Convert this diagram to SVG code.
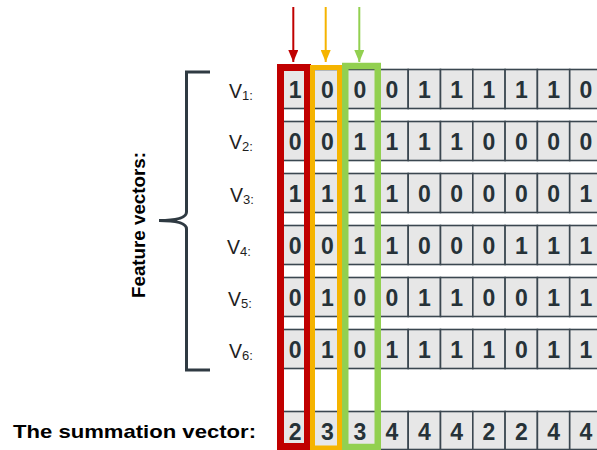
<svg xmlns="http://www.w3.org/2000/svg" width="597" height="450" viewBox="0 0 597 450">
<style>
.c{fill:#e7e7e7;stroke:#3b4750;stroke-width:1.6}
.d{font-family:"Liberation Sans",Arial,sans-serif;font-weight:bold;font-size:23px;fill:#263238;text-anchor:middle}
.v{font-family:"Liberation Sans",Arial,sans-serif;font-size:19.5px;fill:#1e1e1e}
.s{font-size:13px}
.t{font-family:"Liberation Sans",Arial,sans-serif;font-weight:bold;font-size:19px;fill:#000}
.fr{fill:none}
</style>
<defs>
<marker id="mr" viewBox="0 0 12 10" refX="12" refY="5" markerWidth="12" markerHeight="10" markerUnits="userSpaceOnUse" orient="auto"><path d="M0,0 L12,5 L0,10 z" fill="#c00000"/></marker>
<marker id="mo" viewBox="0 0 12 10" refX="12" refY="5" markerWidth="12" markerHeight="10" markerUnits="userSpaceOnUse" orient="auto"><path d="M0,0 L12,5 L0,10 z" fill="#f5b400"/></marker>
<marker id="mg" viewBox="0 0 12 10" refX="12" refY="5" markerWidth="12" markerHeight="10" markerUnits="userSpaceOnUse" orient="auto"><path d="M0,0 L12,5 L0,10 z" fill="#92d050"/></marker>
</defs>

<g id="label-feature">
<text class="t" transform="translate(145,225) rotate(-90)" text-anchor="middle" font-size="20" textLength="146" lengthAdjust="spacingAndGlyphs">Feature vectors:</text>
<path d="M210,72 H186.5 V212 Q186.5,220.5 159,220.5 Q186.5,220.5 186.5,229 V370 H210" fill="none" stroke="#2f3a42" stroke-width="3"/>
</g>

<g id="label-sum">
<text class="t" x="13" y="438" textLength="243" lengthAdjust="spacingAndGlyphs">The summation vector:</text>
</g>

<g id="v1">
<text class="v" x="229" y="98">V<tspan class="s" dy="2">1:</tspan></text>
<rect class="c" x="279" y="69.5" width="32.3" height="39"/><rect class="c" x="311.3" y="69.5" width="32.3" height="39"/><rect class="c" x="343.6" y="69.5" width="32.3" height="39"/><rect class="c" x="375.9" y="69.5" width="32.3" height="39"/><rect class="c" x="408.2" y="69.5" width="32.3" height="39"/><rect class="c" x="440.5" y="69.5" width="32.3" height="39"/><rect class="c" x="472.8" y="69.5" width="32.3" height="39"/><rect class="c" x="505.1" y="69.5" width="32.3" height="39"/><rect class="c" x="537.4" y="69.5" width="32.3" height="39"/><rect class="c" x="569.7" y="69.5" width="32.3" height="39"/>
<text class="d" y="97.5"><tspan x="295.2">1</tspan><tspan x="327.5">0</tspan><tspan x="359.8">0</tspan><tspan x="392">0</tspan><tspan x="424.4">1</tspan><tspan x="456.7">1</tspan><tspan x="489">1</tspan><tspan x="521.3">1</tspan><tspan x="553.6">1</tspan><tspan x="585.9">0</tspan></text>
</g>

<g id="v2">
<text class="v" x="229" y="149">V<tspan class="s" dy="2">2:</tspan></text>
<rect class="c" x="279" y="121.5" width="32.3" height="39"/><rect class="c" x="311.3" y="121.5" width="32.3" height="39"/><rect class="c" x="343.6" y="121.5" width="32.3" height="39"/><rect class="c" x="375.9" y="121.5" width="32.3" height="39"/><rect class="c" x="408.2" y="121.5" width="32.3" height="39"/><rect class="c" x="440.5" y="121.5" width="32.3" height="39"/><rect class="c" x="472.8" y="121.5" width="32.3" height="39"/><rect class="c" x="505.1" y="121.5" width="32.3" height="39"/><rect class="c" x="537.4" y="121.5" width="32.3" height="39"/><rect class="c" x="569.7" y="121.5" width="32.3" height="39"/>
<text class="d" y="149.5"><tspan x="295.2">0</tspan><tspan x="327.5">0</tspan><tspan x="359.8">1</tspan><tspan x="392">1</tspan><tspan x="424.4">1</tspan><tspan x="456.7">1</tspan><tspan x="489">0</tspan><tspan x="521.3">0</tspan><tspan x="553.6">0</tspan><tspan x="585.9">0</tspan></text>
</g>

<g id="v3">
<text class="v" x="230" y="202">V<tspan class="s" dy="2">3:</tspan></text>
<rect class="c" x="279" y="173.5" width="32.3" height="39"/><rect class="c" x="311.3" y="173.5" width="32.3" height="39"/><rect class="c" x="343.6" y="173.5" width="32.3" height="39"/><rect class="c" x="375.9" y="173.5" width="32.3" height="39"/><rect class="c" x="408.2" y="173.5" width="32.3" height="39"/><rect class="c" x="440.5" y="173.5" width="32.3" height="39"/><rect class="c" x="472.8" y="173.5" width="32.3" height="39"/><rect class="c" x="505.1" y="173.5" width="32.3" height="39"/><rect class="c" x="537.4" y="173.5" width="32.3" height="39"/><rect class="c" x="569.7" y="173.5" width="32.3" height="39"/>
<text class="d" y="201.5"><tspan x="295.2">1</tspan><tspan x="327.5">1</tspan><tspan x="359.8">1</tspan><tspan x="392">1</tspan><tspan x="424.4">0</tspan><tspan x="456.7">0</tspan><tspan x="489">0</tspan><tspan x="521.3">0</tspan><tspan x="553.6">0</tspan><tspan x="585.9">1</tspan></text>
</g>

<g id="v4">
<text class="v" x="227" y="254">V<tspan class="s" dy="2">4:</tspan></text>
<rect class="c" x="279" y="225.5" width="32.3" height="39"/><rect class="c" x="311.3" y="225.5" width="32.3" height="39"/><rect class="c" x="343.6" y="225.5" width="32.3" height="39"/><rect class="c" x="375.9" y="225.5" width="32.3" height="39"/><rect class="c" x="408.2" y="225.5" width="32.3" height="39"/><rect class="c" x="440.5" y="225.5" width="32.3" height="39"/><rect class="c" x="472.8" y="225.5" width="32.3" height="39"/><rect class="c" x="505.1" y="225.5" width="32.3" height="39"/><rect class="c" x="537.4" y="225.5" width="32.3" height="39"/><rect class="c" x="569.7" y="225.5" width="32.3" height="39"/>
<text class="d" y="253.5"><tspan x="295.2">0</tspan><tspan x="327.5">0</tspan><tspan x="359.8">1</tspan><tspan x="392">1</tspan><tspan x="424.4">0</tspan><tspan x="456.7">0</tspan><tspan x="489">0</tspan><tspan x="521.3">1</tspan><tspan x="553.6">1</tspan><tspan x="585.9">1</tspan></text>
</g>

<g id="v5">
<text class="v" x="228" y="306">V<tspan class="s" dy="2">5:</tspan></text>
<rect class="c" x="279" y="277.5" width="32.3" height="39"/><rect class="c" x="311.3" y="277.5" width="32.3" height="39"/><rect class="c" x="343.6" y="277.5" width="32.3" height="39"/><rect class="c" x="375.9" y="277.5" width="32.3" height="39"/><rect class="c" x="408.2" y="277.5" width="32.3" height="39"/><rect class="c" x="440.5" y="277.5" width="32.3" height="39"/><rect class="c" x="472.8" y="277.5" width="32.3" height="39"/><rect class="c" x="505.1" y="277.5" width="32.3" height="39"/><rect class="c" x="537.4" y="277.5" width="32.3" height="39"/><rect class="c" x="569.7" y="277.5" width="32.3" height="39"/>
<text class="d" y="305.5"><tspan x="295.2">0</tspan><tspan x="327.5">1</tspan><tspan x="359.8">0</tspan><tspan x="392">0</tspan><tspan x="424.4">1</tspan><tspan x="456.7">1</tspan><tspan x="489">0</tspan><tspan x="521.3">0</tspan><tspan x="553.6">1</tspan><tspan x="585.9">1</tspan></text>
</g>

<g id="v6">
<text class="v" x="229" y="358">V<tspan class="s" dy="2">6:</tspan></text>
<rect class="c" x="279" y="329.5" width="32.3" height="39"/><rect class="c" x="311.3" y="329.5" width="32.3" height="39"/><rect class="c" x="343.6" y="329.5" width="32.3" height="39"/><rect class="c" x="375.9" y="329.5" width="32.3" height="39"/><rect class="c" x="408.2" y="329.5" width="32.3" height="39"/><rect class="c" x="440.5" y="329.5" width="32.3" height="39"/><rect class="c" x="472.8" y="329.5" width="32.3" height="39"/><rect class="c" x="505.1" y="329.5" width="32.3" height="39"/><rect class="c" x="537.4" y="329.5" width="32.3" height="39"/><rect class="c" x="569.7" y="329.5" width="32.3" height="39"/>
<text class="d" y="357.5"><tspan x="295.2">0</tspan><tspan x="327.5">1</tspan><tspan x="359.8">0</tspan><tspan x="392">1</tspan><tspan x="424.4">1</tspan><tspan x="456.7">1</tspan><tspan x="489">1</tspan><tspan x="521.3">0</tspan><tspan x="553.6">1</tspan><tspan x="585.9">1</tspan></text>
</g>

<g id="sum">
<rect class="c" x="279" y="411.5" width="32.3" height="38"/><rect class="c" x="311.3" y="411.5" width="32.3" height="38"/><rect class="c" x="343.6" y="411.5" width="32.3" height="38"/><rect class="c" x="375.9" y="411.5" width="32.3" height="38"/><rect class="c" x="408.2" y="411.5" width="32.3" height="38"/><rect class="c" x="440.5" y="411.5" width="32.3" height="38"/><rect class="c" x="472.8" y="411.5" width="32.3" height="38"/><rect class="c" x="505.1" y="411.5" width="32.3" height="38"/><rect class="c" x="537.4" y="411.5" width="32.3" height="38"/><rect class="c" x="569.7" y="411.5" width="32.3" height="38"/>
<text class="d" y="439.5"><tspan x="295.2">2</tspan><tspan x="327.5">3</tspan><tspan x="359.8">3</tspan><tspan x="392">4</tspan><tspan x="424.4">4</tspan><tspan x="456.7">4</tspan><tspan x="489">2</tspan><tspan x="521.3">2</tspan><tspan x="553.6">4</tspan><tspan x="585.9">4</tspan></text>
</g>

<g id="frame-red"><rect class="fr" x="280.5" y="67.5" width="27" height="379" stroke="#c00000" stroke-width="7"/></g>
<g id="frame-orange"><rect class="fr" x="312.5" y="67.5" width="27" height="380.5" stroke="#f5b400" stroke-width="5"/></g>
<g id="frame-green"><rect class="fr" x="345.25" y="66" width="32.5" height="381" stroke="#92d050" stroke-width="6.5"/></g>

<g id="connectors" stroke-width="2" fill="none">
<line x1="293.3" y1="7" x2="293.3" y2="62" stroke="#c00000" marker-end="url(#mr)"/>
<line x1="325.7" y1="7" x2="325.7" y2="62" stroke="#f5b400" marker-end="url(#mo)"/>
<line x1="359.3" y1="7" x2="359.3" y2="62" stroke="#92d050" marker-end="url(#mg)"/>
</g>
</svg>
